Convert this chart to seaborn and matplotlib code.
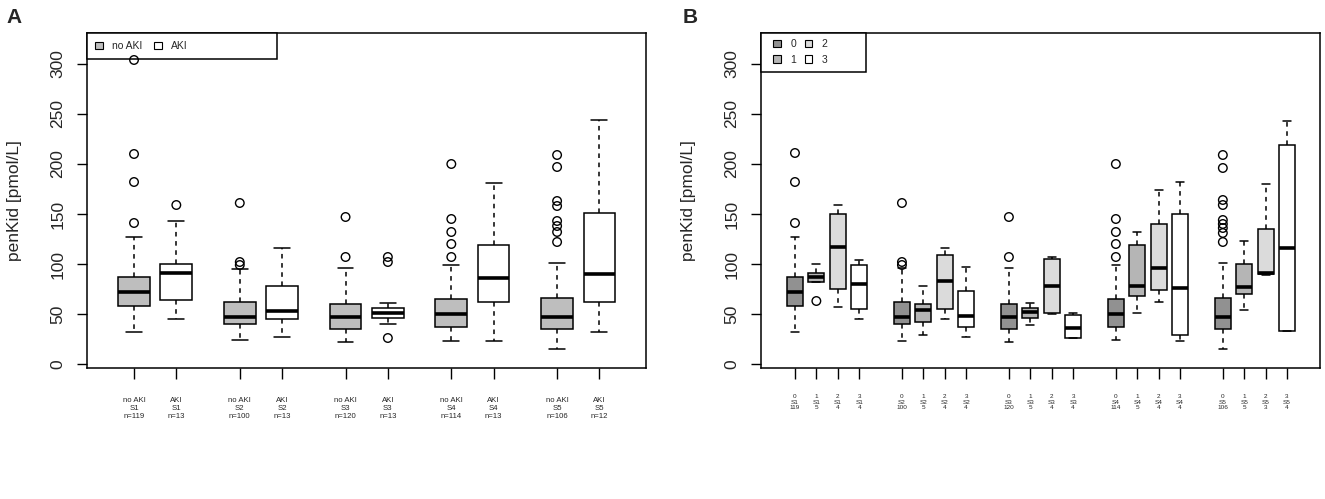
import numpy as np
import pandas as pd
import matplotlib.pyplot as plt
import seaborn as sns
from matplotlib.patches import Patch, Rectangle

# ---------------- Painel A: no AKI x AKI por estágio ----------------
pos_a = [1, 2, 3.5, 4.5, 6, 7, 8.5, 9.5, 11, 12]
grupo_a = ["no AKI", "AKI"] * 5
rotulos_a = ["no AKI\nS1\nn=119", "AKI\nS1\nn=13",
             "no AKI\nS2\nn=100", "AKI\nS2\nn=13",
             "no AKI\nS3\nn=120", "AKI\nS3\nn=13",
             "no AKI\nS4\nn=114", "AKI\nS4\nn=13",
             "no AKI\nS5\nn=106", "AKI\nS5\nn=12"]
min_a = [32, 45, 24, 27, 22, 40, 23, 23, 15, 32]
q1_a = [58, 64, 40, 45, 35, 46, 37, 62, 35, 62]
med_a = [72, 91, 47, 53, 47, 51, 50, 86, 47, 90]
q3_a = [87, 100, 62, 78, 60, 56, 65, 119, 66, 151]
max_a = [127, 143, 95, 116, 96, 61, 99, 181, 101, 244]
outliers_a = [[141, 182, 210, 304], [159], [99, 102, 161], [], [107, 147],
              [26, 102, 107], [107, 120, 132, 145, 200], [],
              [122, 132, 138, 143, 158, 163, 197, 209], []]

# ---------------- Painel B: grau de AKI (0-3) por estágio ----------------
pos_b = [1, 2, 3, 4, 6, 7, 8, 9, 11, 12, 13, 14, 16, 17, 18, 19, 21, 22, 23, 24]
grau_b = ["0", "1", "2", "3"] * 5
n_b = [119, 5, 4, 4, 100, 5, 4, 4, 120, 5, 4, 4, 114, 5, 4, 4, 106, 5, 3, 4]
rotulos_b = [f"{g}\nS{i // 4 + 1}\n{n}" for i, (g, n) in enumerate(zip(grau_b, n_b))]
min_b = [32, 82, 57, 45, 23, 29, 45, 27, 22, 39, 50, 26, 24, 51, 62, 23, 15, 54, 89, 33]
q1_b = [58, 82, 75, 55, 40, 42, 55, 37, 35, 46, 51, 26, 37, 68, 74, 29, 35, 70, 90, 33]
med_b = [72, 87, 117, 80, 47, 54, 83, 48, 47, 52, 78, 36, 50, 78, 96, 76, 47, 77, 91, 116]
q3_b = [87, 91, 150, 99, 62, 60, 109, 73, 60, 56, 105, 49, 65, 119, 140, 150, 66, 100, 135, 219]
max_b = [127, 100, 159, 104, 96, 78, 116, 97, 96, 61, 107, 51, 99, 132, 174, 182, 101, 123, 180, 243]
outliers_b = [[141, 182, 211], [63], [], [], [99, 102, 161], [], [], [],
              [107, 147], [], [], [], [107, 120, 132, 145, 200], [], [], [],
              [122, 131, 136, 140, 144, 159, 164, 196, 209], [], [], []]

cores_a = {"no AKI": "#bebebe", "AKI": "#ffffff"}
cores_b = {"0": "#919191", "1": "#b5b5b5", "2": "#dbdbdb", "3": "#ffffff"}


def tabela_caixas(pos, grupo, *resumos):
    linhas = []
    for i, (p, g) in enumerate(zip(pos, grupo)):
        for serie in resumos:
            linhas.append((p, g, serie[i]))
    return pd.DataFrame(linhas, columns=["pos", "grupo", "valor"])


def tabela_outliers(pos, outliers):
    linhas = [(p, v) for p, vals in zip(pos, outliers) for v in vals]
    return pd.DataFrame(linhas, columns=["pos", "valor"])


sns.set_theme(style="ticks")
plt.rcParams["font.family"] = ["Liberation Sans", "DejaVu Sans"]
plt.rcParams["axes.linewidth"] = 1.1
plt.rcParams["axes.edgecolor"] = "black"

fig = plt.figure(figsize=(13.25, 4.99), dpi=100)
ax_a = fig.add_axes([0.0657, 0.2625, 0.4218, 0.6714])
ax_b = fig.add_axes([0.5743, 0.2625, 0.4219, 0.6714])


def desenhar(ax, pos, grupo, resumos, outliers, cores, rotulos, xlim, fs_x, pad_x, esp):
    dados = tabela_caixas(pos, grupo, *resumos)
    sns.boxplot(data=dados, x="pos", y="valor", hue="grupo", hue_order=list(cores),
                palette=cores, native_scale=True, dodge=False, width=0.75,
                saturation=1, whis=(0, 100), linecolor="black", linewidth=1.1,
                legend=False, ax=ax,
                whiskerprops=dict(linestyle=(0, (3, 3))),
                medianprops=dict(linewidth=2.6, color="black"))
    out = tabela_outliers(pos, outliers)
    ax.scatter(out["pos"], out["valor"], s=38, facecolor="none",
               edgecolor="black", linewidth=1.0, zorder=5)
    ax.set_xlim(*xlim)
    ax.set_ylim(-4, 331)
    ax.set_xticks(pos)
    ax.set_xticklabels(rotulos, fontsize=fs_x, linespacing=esp)
    ax.set_yticks([0, 50, 100, 150, 200, 250, 300])
    ax.tick_params(axis="x", length=8, width=1, pad=pad_x, color="black")
    ax.tick_params(axis="y", length=7.5, width=1, pad=8, labelsize=12.5,
                   labelrotation=90, color="black")
    for lbl in ax.get_yticklabels():
        lbl.set_va("center")
    ax.set_xlabel("")
    ax.set_ylabel("penKid [pmol/L]", fontsize=12.5)
    ax.yaxis.set_label_coords(-0.117, 0.5)
    for sp in ax.spines.values():
        sp.set_visible(True)
        sp.set_color("black")


desenhar(ax_a, pos_a, grupo_a, (min_a, q1_a, med_a, q3_a, max_a), outliers_a,
         cores_a, rotulos_a, (-0.11, 13.1), 5.6, 13, 1.15)
desenhar(ax_b, pos_b, grau_b, (min_b, q1_b, med_b, q3_b, max_b), outliers_b,
         cores_b, rotulos_b, (-0.59, 25.54), 4.6, 11, 1.05)

# Legendas no estilo do R (caixa alongada no canto superior esquerdo)
h_a = [Patch(facecolor=c, edgecolor="black", linewidth=0.8) for c in cores_a.values()]
ax_a.legend(h_a, list(cores_a), loc="center left", bbox_to_anchor=(0.014, 0.961),
            ncol=2, frameon=False, fontsize=7.5, borderpad=0, borderaxespad=0,
            handlelength=0.75, handleheight=0.75, handletextpad=0.9, columnspacing=1.1)
ax_a.add_patch(Rectangle((0, 0.922), 0.34, 0.078, transform=ax_a.transAxes,
                         facecolor="white", edgecolor="black", linewidth=1.1,
                         zorder=4, clip_on=False))

h_b = [Patch(facecolor=c, edgecolor="black", linewidth=0.8) for c in cores_b.values()]
ax_b.legend(h_b, list(cores_b), loc="center left", bbox_to_anchor=(0.022, 0.943),
            ncol=2, frameon=False, fontsize=7.5, borderpad=0, borderaxespad=0,
            handlelength=0.75, handleheight=0.75, handletextpad=0.9,
            columnspacing=0.8, labelspacing=0.55)
ax_b.add_patch(Rectangle((0, 0.884), 0.188, 0.116, transform=ax_b.transAxes,
                         facecolor="white", edgecolor="black", linewidth=1.1,
                         zorder=4, clip_on=False))
for ax in (ax_a, ax_b):
    ax.get_legend().set_zorder(6)

fig.text(0.005, 0.964, "A", fontsize=15, fontweight="bold", va="center")
fig.text(0.515, 0.964, "B", fontsize=15, fontweight="bold", va="center")

fig.savefig("out.png", dpi=100)
